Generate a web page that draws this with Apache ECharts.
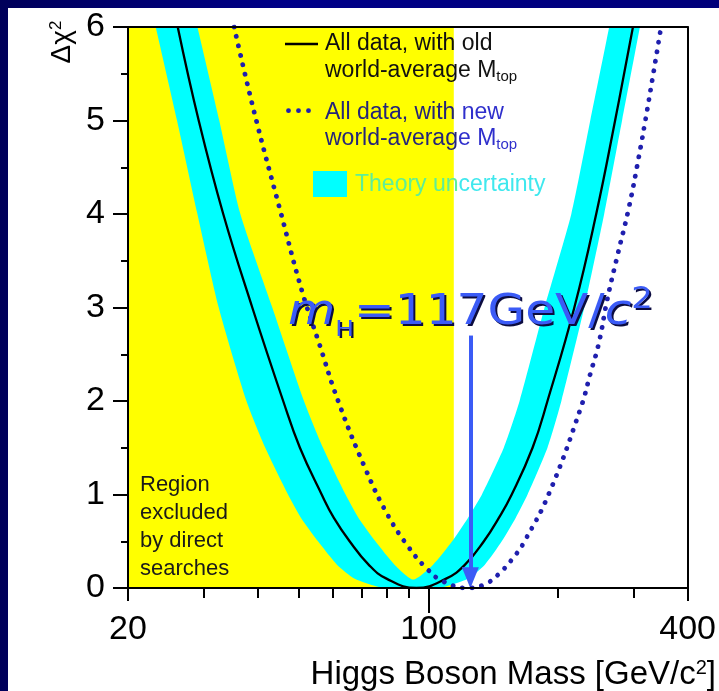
<!DOCTYPE html>
<html><head><meta charset="utf-8">
<script src="https://cdn.jsdelivr.net/npm/echarts@6/dist/echarts.min.js"></script>
<style>
html,body{margin:0;padding:0;width:719px;height:691px;overflow:hidden;background:linear-gradient(90deg,#00005a,#000088 40%,#00007a);}
#w{position:absolute;left:8px;top:8px;right:0;bottom:0;background:#fff;}
#c{position:absolute;left:0;top:0;width:719px;height:691px;}
</style>
</head><body><div id="w"></div><div id="c"></div>
<script>
// ---- axis ticks / labels ----
const xTickLabels = [20, 100, 400];
const xMinorTickValues = [30, 40, 50, 60, 70, 80, 90, 200, 300];
const xEndTickValues = [20, 400];
const xDecadeTickValues = [100];
const yMin = 0, yMax = 6;

// ---- excluded region (direct searches) ----
const excludedLimit = 114.4;

// ---- solid curve: all data, old world-average Mtop ----
const oldMass = [26.1, 29.2, 33.3, 38.9, 45.9, 50.2, 56.4, 60.2, 65.5, 72.5, 79.8, 93.6, 109.8, 121.5, 134.4, 145.6, 156.0, 174.4, 188.9, 218.1, 245.2, 271.3, 298.5];
const oldChi2 = [6, 5, 4, 3, 2, 1.5, 1, 0.75, 0.5, 0.25, 0.1, 0, 0.1, 0.25, 0.5, 0.75, 1, 1.5, 2, 3, 4, 5, 6];

// ---- dotted curve: all data, new world-average Mtop ----
const newMass = [35.3, 39.3, 45.4, 50.8, 55.6, 61.6, 71.2, 79.9, 89.7, 98.9, 108.1, 123.4, 133.7, 144.8, 159.6, 167.1, 190.0, 225.5, 237.9, 248.7, 260.0, 274.2, 291.8, 307.7, 324.5, 347.0];
const newChi2 = [6.0, 5.09, 4.0, 3.17, 2.62, 2.0, 1.28, 0.80, 0.44, 0.21, 0.07, 0, 0.03, 0.14, 0.36, 0.5, 1.0, 1.92, 2.30, 2.62, 3.08, 3.54, 4.06, 4.60, 5.20, 6.0];

// ---- theory uncertainty band: outer (lower) and inner (upper) edges ----
const bandLowMass = [21.7, 23.2, 26.0, 29.0, 32.5, 37.7, 41.7, 47.1, 50.5, 55.3, 61.2, 67.3, 79.0, 105.2, 123.4, 135.1, 147.9, 159.3, 169.8, 188.9, 203.5, 230.0, 255.9, 281.6, 309.8, 327.0];
const bandLowChi2 = [6.6, 6, 5, 4, 3, 2, 1.5, 1, 0.75, 0.5, 0.25, 0.1, 0, 0, 0.1, 0.25, 0.5, 0.75, 1, 1.5, 2, 3, 4, 5, 6, 6.6];
const bandHighMass = [27.0, 29.0, 32.6, 36.5, 43.3, 51.3, 56.8, 64.1, 68.7, 75.2, 83.3, 92.1, 102.4, 113.4, 123.4, 133.0, 149.5, 162.7, 186.0, 214.6, 237.5, 262.8, 278.0];
const bandHighChi2 = [6.6, 6, 5, 4, 3, 2, 1.5, 1, 0.75, 0.5, 0.25, 0.09, 0.25, 0.5, 0.75, 1, 1.5, 2, 3, 4, 5, 6, 6.6];

// ---- annotation arrow ----
const arrowMass = 125;
const arrowTop = 2.70;
const arrowBottom = 0.11;

const FONT = "'Liberation Sans', Arial, Helvetica, sans-serif";
const BLUE = '#3b5bf6';
const SHADOW = '#0c0c40';
const DOT = '#1f1fae';

const pairs = (xs, ys) => xs.map((x, i) => [x, ys[i]]);

const chart = echarts.init(document.getElementById('c'), null, {renderer: 'canvas'});

const axLine = {color: '#000', width: 2};
const baseX = {type: 'log', logBase: 10, min: 20, max: 400, gridIndex: 0, z: 10,
  splitLine: {show: false}, minorTick: {show: false}, minorSplitLine: {show: false}};

function annText(fill, dx, dy, z) {
  const st = (o) => Object.assign({fontFamily: 'DejaVu Sans', fill: fill}, o);
  return {type: 'text', z: z, x: 288 + dx, y: 313 + dy, scaleX: 1.13, scaleY: 1,
    style: {text: '{m|m}{h|H}{n|=117GeV/}{c|c}{s|2}', x: 0, y: 0, verticalAlign: 'middle', fill: fill,
      rich: {
        m: st({fontSize: 43, fontStyle: 'italic', lineHeight: 56, verticalAlign: 'middle'}),
        h: st({fontSize: 22, lineHeight: 26, verticalAlign: 'bottom'}),
        n: st({fontSize: 43, lineHeight: 56, verticalAlign: 'middle'}),
        c: st({fontSize: 43, fontStyle: 'italic', lineHeight: 56, verticalAlign: 'middle'}),
        s: st({fontSize: 30, lineHeight: 49, verticalAlign: 'top'})
      }}};
}

const option = {
  animation: false,
  backgroundColor: 'transparent',
  grid: {left: 128, top: 27, width: 563, height: 561, show: false, containLabel: false},
  xAxis: [
    Object.assign({}, baseX, {position: 'bottom',
      axisLine: {show: true, onZero: false, lineStyle: axLine},
      axisTick: {show: true, customValues: xMinorTickValues, length: 10, lineStyle: axLine},
      axisLabel: {show: true, customValues: xTickLabels, fontSize: 34, fontFamily: FONT, color: '#000', margin: 25}}),
    Object.assign({}, baseX, {position: 'bottom',
      axisLine: {show: false},
      axisTick: {show: true, customValues: xEndTickValues, length: 13, lineStyle: axLine},
      axisLabel: {show: false}}),
    Object.assign({}, baseX, {position: 'bottom',
      axisLine: {show: false},
      axisTick: {show: true, customValues: xDecadeTickValues, length: 25, lineStyle: axLine},
      axisLabel: {show: false}}),
    Object.assign({}, baseX, {position: 'top',
      axisLine: {show: true, onZero: false, lineStyle: axLine},
      axisTick: {show: false}, axisLabel: {show: false}})
  ],
  yAxis: [
    {type: 'value', min: yMin, max: yMax, interval: 1, position: 'left', z: 10,
      axisLine: {show: true, onZero: false, lineStyle: axLine},
      axisTick: {show: true, length: 15, lineStyle: axLine},
      minorTick: {show: true, splitNumber: 2, length: 7, lineStyle: axLine},
      axisLabel: {fontSize: 34, fontFamily: FONT, color: '#000', margin: 23},
      splitLine: {show: false}},
    {type: 'value', min: yMin, max: yMax, interval: 1, position: 'right', z: 10,
      axisLine: {show: true, onZero: false, lineStyle: axLine},
      axisTick: {show: false}, axisLabel: {show: false}, splitLine: {show: false}}
  ],
  series: [
    { // excluded region
      type: 'custom', xAxisIndex: 0, yAxisIndex: 0, z: 1, silent: true, clip: true,
      data: [[20, 0]],
      renderItem: function (params, api) {
        const p0 = api.coord([20, yMax]);
        const p1 = api.coord([excludedLimit, yMin]);
        return {type: 'rect', shape: {x: p0[0], y: p0[1], width: p1[0] - p0[0], height: p1[1] - p0[1]},
          style: {fill: '#ffff00'}};
      }
    },
    { // theory band
      type: 'custom', xAxisIndex: 0, yAxisIndex: 0, z: 2, silent: true, clip: true,
      data: [[20, 0]],
      renderItem: function (params, api) {
        const pts = [];
        for (let i = 0; i < bandLowMass.length; i++) pts.push(api.coord([bandLowMass[i], bandLowChi2[i]]));
        for (let i = bandHighMass.length - 1; i >= 0; i--) pts.push(api.coord([bandHighMass[i], bandHighChi2[i]]));
        const cs = params.coordSys;
        return {type: 'polygon', shape: {points: pts, smooth: 0.2},
          clipPath: {type: 'rect', shape: {x: cs.x, y: cs.y, width: cs.width, height: cs.height}},
          style: {fill: '#00ffff', stroke: null}};
      }
    },
    {
      type: 'line', name: 'old', xAxisIndex: 0, yAxisIndex: 0, z: 4, silent: true,
      data: pairs(oldMass, oldChi2), showSymbol: false, symbol: 'none', smooth: 0.45,
      lineStyle: {color: '#000', width: 2.3}
    },
    {
      type: 'line', name: 'new', xAxisIndex: 0, yAxisIndex: 0, z: 5, silent: true,
      data: pairs(newMass, newChi2), showSymbol: false, symbol: 'none', smooth: 0.45,
      lineStyle: {color: DOT, width: 4.8, type: [0.1, 9.6], cap: 'round'},
      markLine: {
        silent: true, symbol: ['none', 'triangle'], symbolSize: [17, 21],
        label: {show: false},
        lineStyle: {color: BLUE, width: 4, type: 'solid'},
        data: [[{coord: [arrowMass, arrowTop]}, {coord: [arrowMass, arrowBottom]}]]
      }
    }
  ],
  graphic: [
    // y-axis title
    {type: 'text', x: 62, y: 42, rotation: Math.PI / 2, z: 20,
      style: {text: 'Δχ{s|2}', x: 0, y: 0, align: 'center', verticalAlign: 'middle',
        font: '28px ' + FONT, fill: '#000',
        rich: {s: {fontSize: 17, fontFamily: FONT, verticalAlign: 'top', lineHeight: 22}}}},
    // x-axis title
    {type: 'text', z: 20,
      style: {text: 'Higgs Boson Mass [GeV/c{s|2}]', x: 716, y: 675, align: 'right', verticalAlign: 'middle',
        font: '33px ' + FONT, fill: '#000',
        rich: {s: {fontSize: 20, fontFamily: FONT, verticalAlign: 'top', lineHeight: 31}}}},
    // legend: solid line
    {type: 'line', z: 20, shape: {x1: 285, y1: 44, x2: 318, y2: 44}, style: {stroke: '#000', lineWidth: 2.5}},
    {type: 'text', z: 20, style: {text: 'All data, with old', x: 325, y: 44, verticalAlign: 'middle', font: '23px ' + FONT, fill: '#111'}},
    {type: 'text', z: 20, style: {text: '{a|world-average M}{b|top}', x: 325, y: 71, verticalAlign: 'middle',
      rich: {a: {fontSize: 23, fontFamily: FONT, fill: '#111', lineHeight: 26, verticalAlign: 'middle'},
             b: {fontSize: 15, fontFamily: FONT, fill: '#111', lineHeight: 4, verticalAlign: 'bottom'}}}},
    // legend: dotted
    {type: 'circle', z: 20, shape: {cx: 288.5, cy: 110.7, r: 2.4}, style: {fill: DOT}},
    {type: 'circle', z: 20, shape: {cx: 298.5, cy: 110.7, r: 2.4}, style: {fill: DOT}},
    {type: 'circle', z: 20, shape: {cx: 308.5, cy: 110.7, r: 2.4}, style: {fill: DOT}},
    {type: 'text', z: 20, style: {text: '{a|All data, with }{b|new}', x: 325, y: 112.5, verticalAlign: 'middle',
      rich: {a: {fontSize: 23, fontFamily: FONT, fill: '#25257a', lineHeight: 26, verticalAlign: 'middle'},
             b: {fontSize: 23, fontFamily: FONT, fill: '#2f2fcc', lineHeight: 26, verticalAlign: 'middle'}}}},
    {type: 'text', z: 20, style: {text: '{a|world-averag}{b|e M}{c|top}', x: 325, y: 139, verticalAlign: 'middle',
      rich: {a: {fontSize: 23, fontFamily: FONT, fill: '#25257a', lineHeight: 26, verticalAlign: 'middle'},
             b: {fontSize: 23, fontFamily: FONT, fill: '#2f2fcc', lineHeight: 26, verticalAlign: 'middle'},
             c: {fontSize: 15, fontFamily: FONT, fill: '#2f2fcc', lineHeight: 4, verticalAlign: 'bottom'}}}},
    // legend: band
    {type: 'rect', z: 20, shape: {x: 313, y: 171, width: 34, height: 26}, style: {fill: '#00ffff'}},
    {type: 'text', z: 20, style: {text: '{a|Theory un}{b|certainty}', x: 355, y: 185, verticalAlign: 'middle',
      rich: {a: {fontSize: 23, fontFamily: FONT, fill: '#5eee98', lineHeight: 26, verticalAlign: 'middle'},
             b: {fontSize: 23, fontFamily: FONT, fill: '#3fe8ee', lineHeight: 26, verticalAlign: 'middle'}}}},
    // excluded region label
    {type: 'text', z: 20, style: {text: 'Region\nexcluded\nby direct\nsearches', x: 140, y: 471, verticalAlign: 'top',
      font: '22px ' + FONT, fill: '#1a1a1a', lineHeight: 28}},
    // mass annotation (shadow copy, then face)
    annText(SHADOW, 2, 2, 29),
    annText(BLUE, 0, 0, 30)
  ]
};
chart.setOption(option);
</script>
</body></html>
